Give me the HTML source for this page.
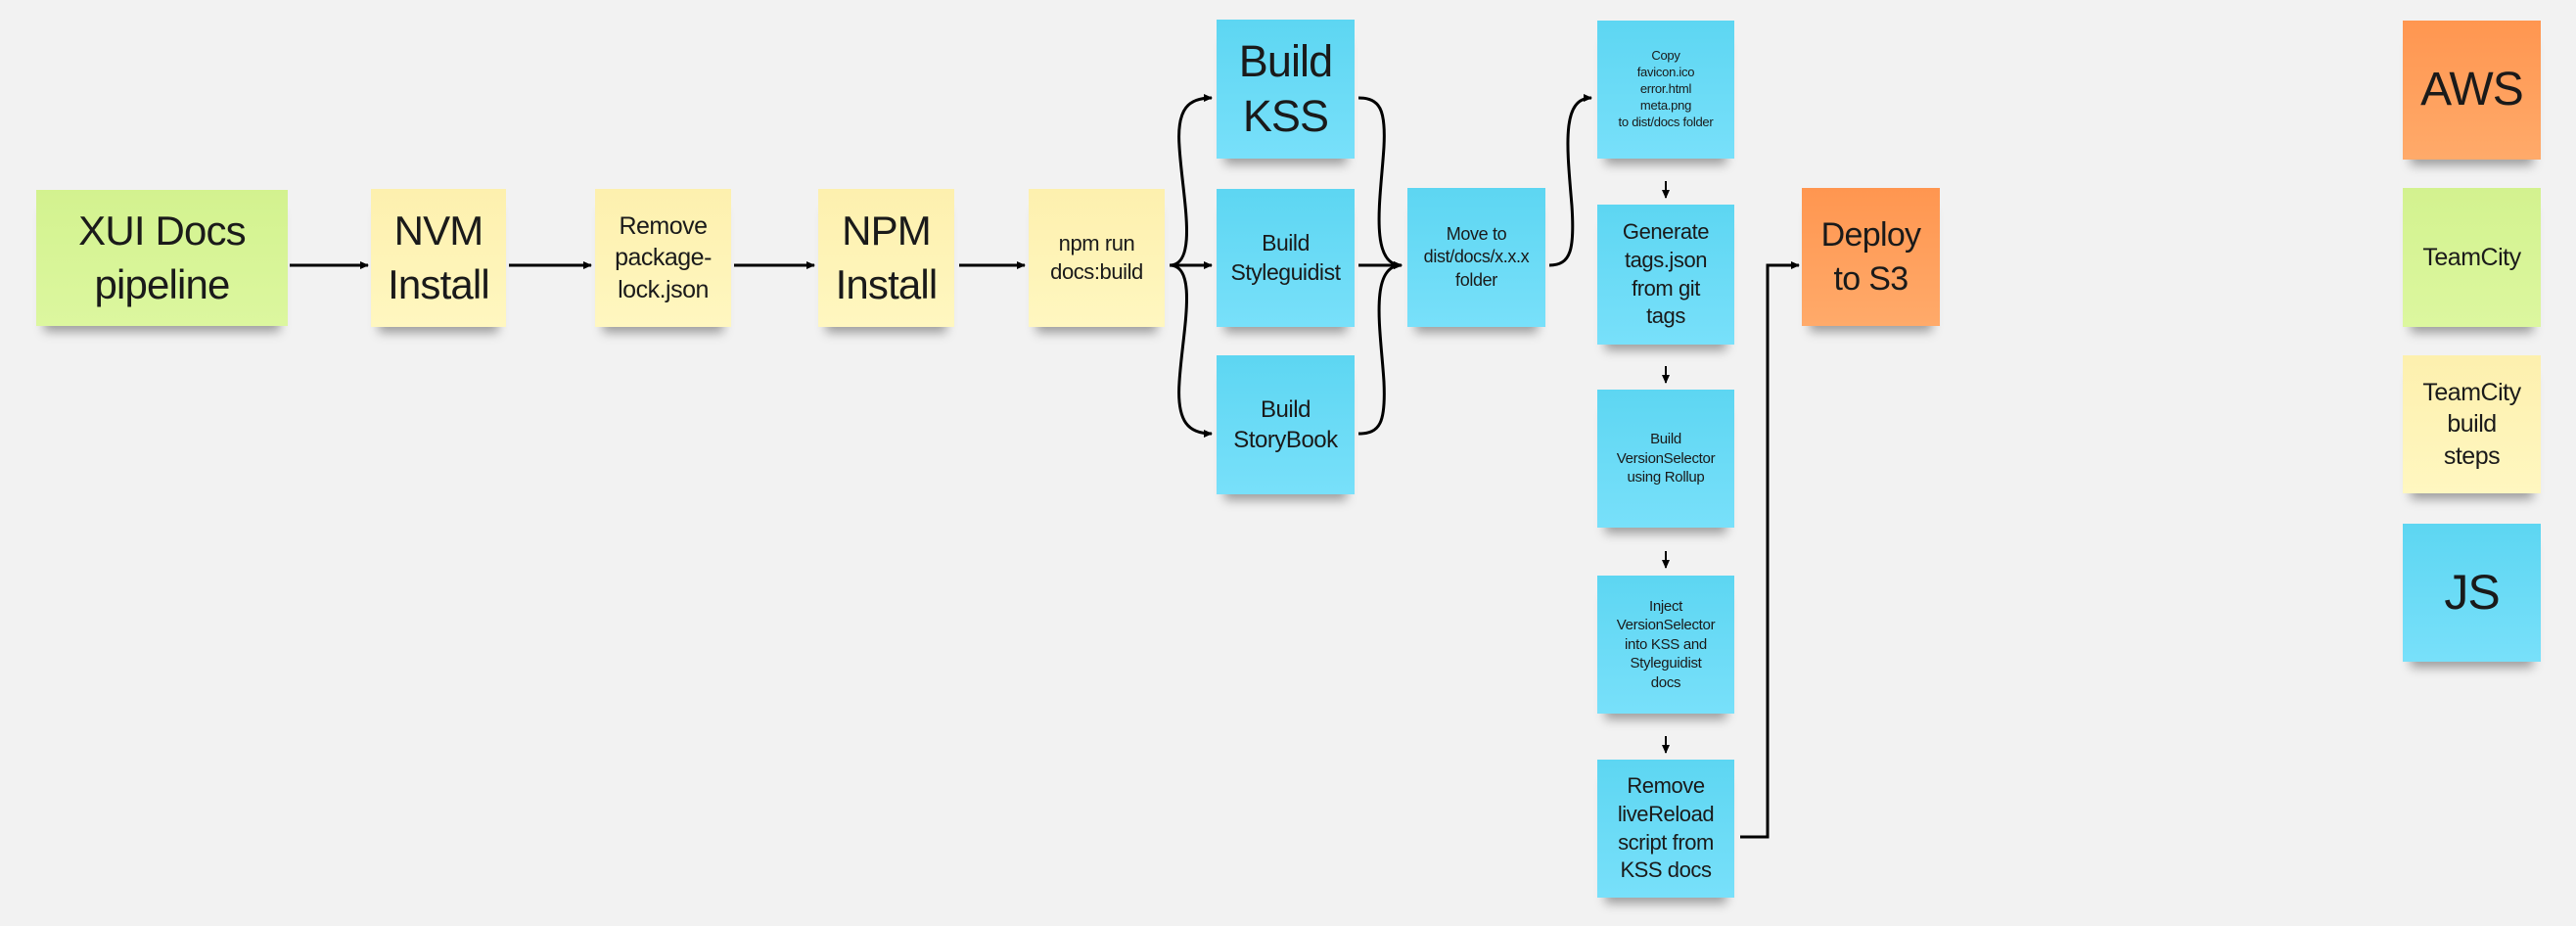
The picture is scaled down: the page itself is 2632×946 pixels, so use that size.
<!DOCTYPE html>
<html><head><meta charset="utf-8"><style>
html,body{margin:0;padding:0;}
body{width:2632px;height:946px;background:#f2f2f2;position:relative;overflow:hidden;font-family:"Liberation Sans",sans-serif;color:#1a1a1a;}
.n{position:absolute;display:flex;align-items:center;justify-content:center;text-align:center;box-shadow:0 14px 10px -8px rgba(0,0,0,.35);line-height:1.3;letter-spacing:-0.02em;}
.g{background:linear-gradient(#d3f28f,#dcf79f);}
.y{background:linear-gradient(#fdf0ae,#fff7c0);}
.b{background:linear-gradient(#5dd6f2,#78e0fa);}
.o{background:linear-gradient(#ff9650,#ffaa6a);}
svg{position:absolute;left:0;top:0;}
</style></head><body>
<svg width="2632" height="946" viewBox="0 0 2632 946">
<defs><marker id="a" markerWidth="10" markerHeight="10" refX="8" refY="5" orient="auto" markerUnits="userSpaceOnUse"><path d="M0,1 L9,5 L0,9 Z" fill="#000"/></marker></defs>
<g stroke="#000" stroke-width="3" fill="none" marker-end="url(#a)">
<line x1="296" y1="271" x2="376" y2="271"/>
<line x1="520" y1="271" x2="604" y2="271"/>
<line x1="750" y1="271" x2="832" y2="271"/>
<line x1="980" y1="271" x2="1047" y2="271"/>
<line x1="1195" y1="271" x2="1238" y2="271"/>
<path d="M1195,271 C1225,271 1208,200 1205,150 C1202,110 1215,100 1238,100"/>
<path d="M1195,271 C1225,271 1208,340 1205,390 C1202,432 1215,443 1238,443"/>
<line x1="1388" y1="271" x2="1432" y2="271"/>
<path d="M1388,100 C1410,100 1416,112 1414,150 C1411,200 1398,271 1432,271"/>
<path d="M1388,443 C1410,443 1416,432 1414,390 C1411,340 1398,271 1432,271"/>
<path d="M1583,271 C1605,271 1609,255 1606,210 C1601,150 1595,100 1626,100"/>
<path d="M1778,855 L1806,855 L1806,271 L1838,271"/>
</g>
<g stroke="#000" stroke-width="2" fill="none" marker-end="url(#a)">
<line x1="1702" y1="185" x2="1702" y2="202"/>
<line x1="1702" y1="374" x2="1702" y2="391"/>
<line x1="1702" y1="563" x2="1702" y2="580"/>
<line x1="1702" y1="752" x2="1702" y2="769"/>
</g>
</svg>
<div class="n g" style="left:37px;top:194px;width:257px;height:139px;font-size:42px;">XUI Docs<br>pipeline</div>
<div class="n y" style="left:379px;top:193px;width:138px;height:141px;font-size:42px;">NVM<br>Install</div>
<div class="n y" style="left:608px;top:193px;width:139px;height:141px;font-size:25px;">Remove<br>package-<br>lock.json</div>
<div class="n y" style="left:836px;top:193px;width:139px;height:141px;font-size:42px;">NPM<br>Install</div>
<div class="n y" style="left:1051px;top:193px;width:139px;height:141px;font-size:22px;">npm run<br>docs:build</div>
<div class="n b" style="left:1243px;top:20px;width:141px;height:142px;font-size:45px;line-height:1.25;">Build<br>KSS</div>
<div class="n b" style="left:1243px;top:193px;width:141px;height:141px;font-size:23px;">Build<br>Styleguidist</div>
<div class="n b" style="left:1243px;top:363px;width:141px;height:142px;font-size:24px;">Build<br>StoryBook</div>
<div class="n b" style="left:1438px;top:192px;width:141px;height:142px;font-size:18px;">Move to<br>dist/docs/x.x.x<br>folder</div>
<div class="n b" style="left:1632px;top:21px;width:140px;height:141px;font-size:13px;">Copy<br>favicon.ico<br>error.html<br>meta.png<br>to dist/docs folder</div>
<div class="n b" style="left:1632px;top:209px;width:140px;height:143px;font-size:22px;">Generate<br>tags.json<br>from git<br>tags</div>
<div class="n b" style="left:1632px;top:398px;width:140px;height:141px;font-size:15px;">Build<br>VersionSelector<br>using Rollup</div>
<div class="n b" style="left:1632px;top:588px;width:140px;height:141px;font-size:15px;">Inject<br>VersionSelector<br>into KSS and<br>Styleguidist<br>docs</div>
<div class="n b" style="left:1632px;top:776px;width:140px;height:141px;font-size:22px;">Remove<br>liveReload<br>script from<br>KSS docs</div>
<div class="n o" style="left:1841px;top:192px;width:141px;height:141px;font-size:34px;">Deploy<br>to S3</div>
<div class="n o" style="left:2455px;top:21px;width:141px;height:142px;font-size:48px;">AWS</div>
<div class="n g" style="left:2455px;top:192px;width:141px;height:142px;font-size:25px;">TeamCity</div>
<div class="n y" style="left:2455px;top:363px;width:141px;height:141px;font-size:25px;">TeamCity<br>build<br>steps</div>
<div class="n b" style="left:2455px;top:535px;width:141px;height:141px;font-size:50px;">JS</div>
</body></html>
